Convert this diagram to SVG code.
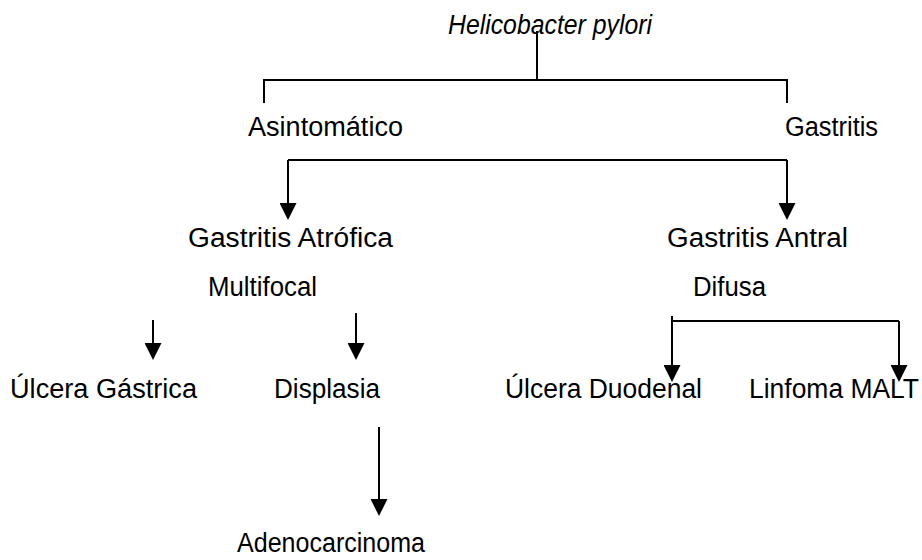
<svg xmlns="http://www.w3.org/2000/svg" width="922" height="560" viewBox="0 0 922 560">
<style>
text{font-family:"Liberation Sans",Arial,sans-serif;font-size:27px;fill:#000}
.it{font-style:italic}
.ln{stroke:#000;stroke-width:2;fill:none}
</style>
<defs>
<marker id="ah" viewBox="0 0 17 17" refX="11" refY="8.5" markerWidth="17" markerHeight="17" markerUnits="userSpaceOnUse" orient="auto">
<path d="M0,0 L17,8.5 L0,17 z" fill="#000"/>
</marker>
</defs>
<rect width="922" height="560" fill="#fff"/>
<g id="connectors">
<path class="ln" d="M537,31 V80 M264,103 V80 H787 V103"/>
<path class="ln" d="M288,160 H787"/>
<path class="ln" d="M288,160 V214" marker-end="url(#ah)"/>
<path class="ln" d="M787,160 V214" marker-end="url(#ah)"/>
<path class="ln" d="M153,320 V354" marker-end="url(#ah)"/>
<path class="ln" d="M356,313 V354" marker-end="url(#ah)"/>
<path class="ln" d="M672,321 H899"/>
<path class="ln" d="M672,316 V376" marker-end="url(#ah)"/>
<path class="ln" d="M899,321 V376" marker-end="url(#ah)"/>
<path class="ln" d="M379,427 V510" marker-end="url(#ah)"/>
</g>
<g id="n-hp"><text class="it" x="448" y="34" textLength="204" lengthAdjust="spacingAndGlyphs">Helicobacter pylori</text></g>
<g id="n-asint"><text x="248" y="136" textLength="155" lengthAdjust="spacingAndGlyphs">Asintomático</text></g>
<g id="n-gast"><text x="785" y="136" textLength="93" lengthAdjust="spacingAndGlyphs">Gastritis</text></g>
<g id="n-gam"><text x="188" y="247" textLength="205" lengthAdjust="spacingAndGlyphs">Gastritis Atrófica</text><text x="208" y="296" textLength="109" lengthAdjust="spacingAndGlyphs">Multifocal</text></g>
<g id="n-gad"><text x="667" y="247" textLength="181" lengthAdjust="spacingAndGlyphs">Gastritis Antral</text><text x="693" y="296" textLength="73" lengthAdjust="spacingAndGlyphs">Difusa</text></g>
<g id="n-ug"><text x="10" y="398" textLength="187" lengthAdjust="spacingAndGlyphs">Úlcera Gástrica</text></g>
<g id="n-disp"><text x="274" y="398" textLength="106" lengthAdjust="spacingAndGlyphs">Displasia</text></g>
<g id="n-ud"><text x="505" y="398" textLength="197" lengthAdjust="spacingAndGlyphs">Úlcera Duodenal</text></g>
<g id="n-lm"><text x="749" y="398" textLength="170" lengthAdjust="spacingAndGlyphs">Linfoma MALT</text></g>
<g id="n-adeno"><text x="237" y="552" textLength="188" lengthAdjust="spacingAndGlyphs">Adenocarcinoma</text></g>
</svg>
